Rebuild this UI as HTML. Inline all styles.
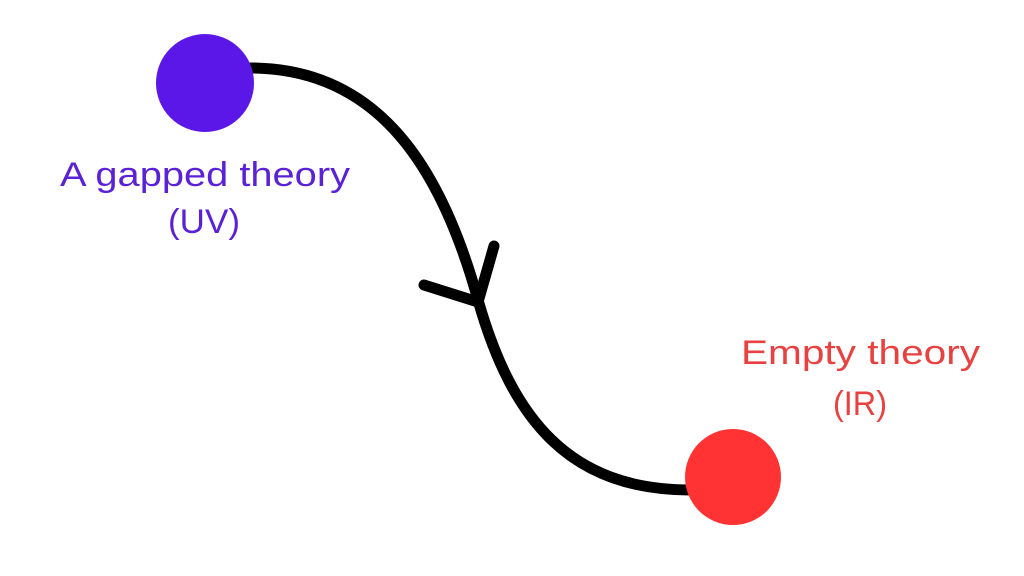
<!DOCTYPE html>
<html><head><style>
html,body{margin:0;padding:0;background:#fff;}
svg{display:block;}
text{font-family:"Liberation Sans",sans-serif;font-size:34px;}
</style></head><body>
<svg width="1024" height="576" viewBox="0 0 1024 576">
<path d="M250,68 C380,68 442,170 478,300 C512,420 570,490 690,490" fill="none" stroke="#000" stroke-width="11" stroke-linecap="round"/>
<path d="M424,285 L478,302 L494,246" fill="none" stroke="#000" stroke-width="11" stroke-linecap="round" stroke-linejoin="round"/>
<circle cx="205" cy="83" r="49" fill="#5b17e8"/>
<circle cx="733" cy="477" r="48" fill="#ff3333"/>
<text x="60" y="186" textLength="290" lengthAdjust="spacingAndGlyphs" fill="#5b21d6">A gapped theory</text>
<text x="168" y="233" textLength="72" lengthAdjust="spacingAndGlyphs" fill="#5b21d6">(UV)</text>
<text x="741" y="364" textLength="239" lengthAdjust="spacingAndGlyphs" fill="#e8413f">Empty theory</text>
<text x="833" y="415" textLength="54" lengthAdjust="spacingAndGlyphs" fill="#e8413f">(IR)</text>
</svg>
</body></html>
